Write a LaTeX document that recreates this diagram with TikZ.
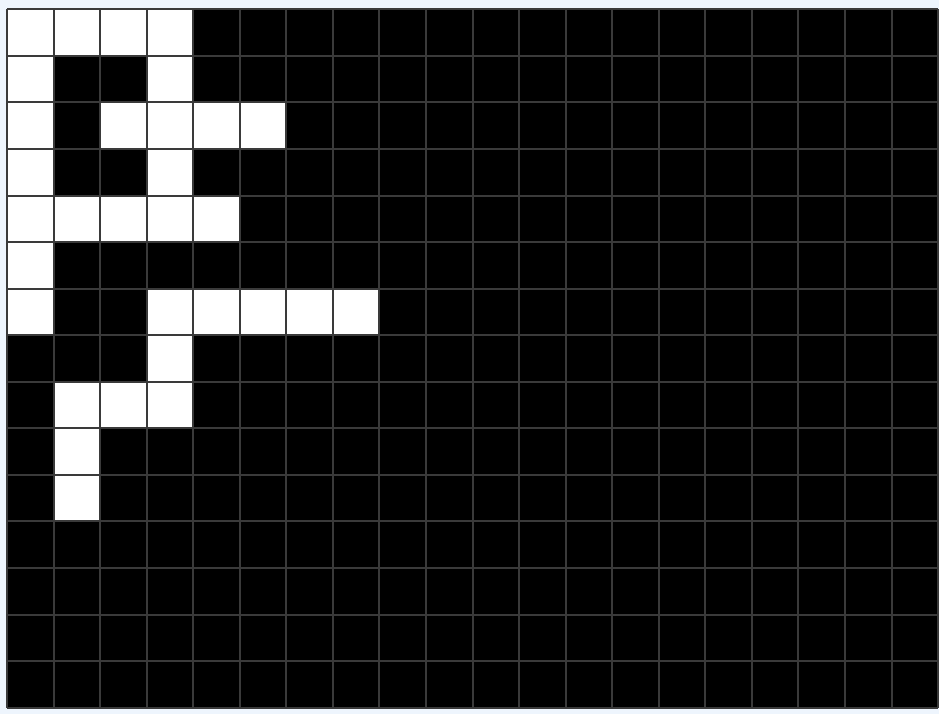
\documentclass[tikz,border=0pt]{standalone}
\usepackage{tikz}

\definecolor{pagebg}{HTML}{EEF5FD}
\definecolor{gridline}{HTML}{3A3A3A}

\begin{document}
\begin{tikzpicture}[yscale=-1, cell/.style={fill=white}]
			\fill[pagebg] (-0.15,-0.2) rectangle (20.02,15.13);
			\useasboundingbox (-0.15,-0.2) rectangle (20.02,15.13);
			\fill[black] (0,0) rectangle (20,15);
			% white cells (column, row)
			\foreach \x/\y in {0/0,1/0,2/0,3/0,0/1,3/1,0/2,2/2,3/2,4/2,5/2,0/3,3/3,0/4,1/4,2/4,3/4,4/4,0/5,0/6,3/6,4/6,5/6,6/6,7/6,3/7,1/8,2/8,3/8,1/9,1/10}
			\fill[cell] (\x,\y) rectangle (\x+1,\y+1);
			\draw[gridline, line width=1.2pt] (0,0) grid (20,15);
		\end{tikzpicture}
\end{document}
